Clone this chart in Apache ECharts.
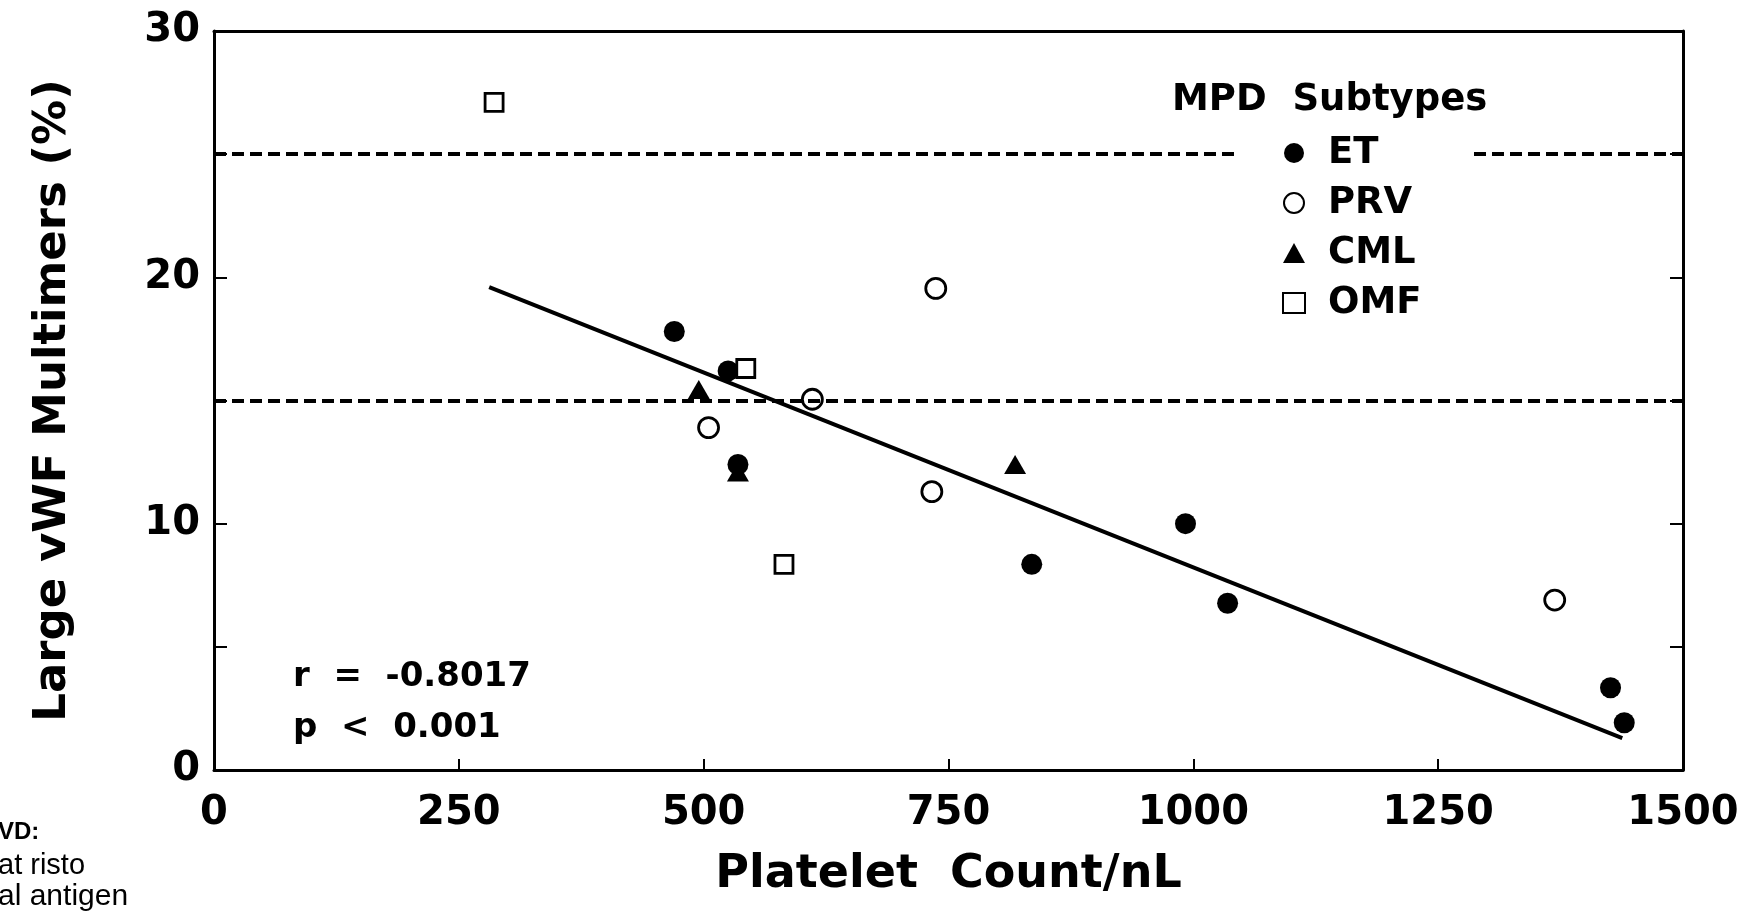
<!DOCTYPE html>
<html>
<head>
<meta charset="utf-8">
<script src="https://cdn.jsdelivr.net/npm/echarts@6/dist/echarts.min.js"></script>
<style>
html,body{margin:0;padding:0;background:#fff;}
#chart{width:1760px;height:914px;}
</style>
</head>
<body>
<div id="chart"></div>
<script>
// ---- data ----
const seriesNames = ['ET', 'PRV', 'CML', 'OMF'];
const etPoints  = [[470, 17.8], [525, 16.2], [535, 12.4], [835, 8.35], [992, 10.0], [1035, 6.77], [1426, 3.34], [1440, 1.92]];
const prvPoints = [[505, 13.9], [611, 15.05], [737, 19.55], [733, 11.3], [1369, 6.9]];
const cmlPoints = [[495, 15.45], [535, 12.1], [818, 12.4]];
const omfPoints = [[286, 27.1], [543, 16.3], [582, 8.35]];
const fitLine   = [[281, 19.6], [1438, 1.29]];
const refLevels = [25, 15];
const xTicks = { min: 0, max: 1500, step: 250 };
const yTicks = { min: 0, max: 30, step: 5, labelStep: 10 };
const xTitle = 'Platelet  Count/nL';
const yTitle = 'Large vWF Multimers (%)';
const legendTitle = 'MPD  Subtypes';
const statLines = ['r  =  -0.8017', 'p  <  0.001'];
const sideFragments = ['VD:', 'at risto', 'al antigen'];

const FONT = '"DejaVu Sans", sans-serif';
const chart = echarts.init(document.getElementById('chart'), null, { renderer: 'canvas' });

const axisLine = { show: true, onZero: false, lineStyle: { color: '#000', width: 3 } };
const tick = len => ({ show: true, inside: true, length: len, lineStyle: { color: '#000', width: 2 } });

const option = {
  backgroundColor: '#fff',
  animation: false,
  grid: { left: 214, right: 77, top: 31, bottom: 144, containLabel: false },
  legend: {
    data: seriesNames,
    orient: 'vertical',
    left: 1234,
    top: 123,
    zlevel: 1,
    z: 10,
    padding: [10, 50, 10, 48],
    itemWidth: 22,
    itemHeight: 20,
    itemGap: 10,
    backgroundColor: '#fff',
    textStyle: { fontFamily: FONT, fontWeight: 'bold', fontSize: 37, color: '#000', lineHeight: 40, padding: [0, 0, 0, 18] },
    selectedMode: false
  },
  xAxis: [
    {
      type: 'value', position: 'bottom', min: xTicks.min, max: xTicks.max, interval: xTicks.step,
      axisLine: axisLine,
      axisTick: tick(11),
      axisLabel: { color: '#000', fontFamily: FONT, fontWeight: 'bold', fontSize: 40, margin: 24, formatter: v => String(v) },
      splitLine: { show: false },
      name: xTitle, nameLocation: 'middle', nameGap: 82,
      nameTextStyle: { color: '#000', fontFamily: FONT, fontWeight: 'bold', fontSize: 46 }
    },
    {
      type: 'value', position: 'top', min: xTicks.min, max: xTicks.max, interval: xTicks.step,
      axisLine: axisLine, axisTick: { show: false }, axisLabel: { show: false }, splitLine: { show: false }
    }
  ],
  yAxis: [
    {
      type: 'value', position: 'left', min: yTicks.min, max: yTicks.max, interval: yTicks.step,
      axisLine: axisLine,
      axisTick: tick(13),
      axisLabel: {
        color: '#000', fontFamily: FONT, fontWeight: 'bold', fontSize: 40, margin: 14,
        formatter: v => (v % yTicks.labelStep === 0 ? String(v) : '')
      },
      splitLine: { show: false },
      name: yTitle, nameLocation: 'middle', nameGap: 138, nameRotate: 90,
      nameTextStyle: { color: '#000', fontFamily: FONT, fontWeight: 'bold', fontSize: 45 }
    },
    {
      type: 'value', position: 'right', min: yTicks.min, max: yTicks.max, interval: yTicks.step,
      axisLine: axisLine,
      axisTick: tick(13),
      axisLabel: { show: false }, splitLine: { show: false }
    }
  ],
  graphic: [
    { type: 'text', left: 1172, top: 82, style: { text: legendTitle, fill: '#000', font: 'bold 37px ' + FONT } },
    { type: 'text', x: 293, y: 677, style: { text: statLines[0], fill: '#000', font: 'bold 34px ' + FONT, textVerticalAlign: 'middle' } },
    { type: 'text', x: 293, y: 728, style: { text: statLines[1], fill: '#000', font: 'bold 34px ' + FONT, textVerticalAlign: 'middle' } },
    { type: 'text', x: -2, y: 832, style: { text: sideFragments[0], fill: '#000', font: 'bold 24px "Liberation Sans", Arial, sans-serif', textVerticalAlign: 'middle' } },
    { type: 'text', x: -2, y: 866, style: { text: sideFragments[1], fill: '#000', font: '29px "Liberation Sans", Arial, sans-serif', textVerticalAlign: 'middle' } },
    { type: 'text', x: -2, y: 897, style: { text: sideFragments[2], fill: '#000', font: '30px "Liberation Sans", Arial, sans-serif', textVerticalAlign: 'middle' } }
  ],
  series: [
    {
      name: 'ref', type: 'line', data: [], silent: true,
      markLine: {
        symbol: ['none', 'none'], silent: true, label: { show: false },
        lineStyle: { color: '#000', width: 4, type: [12, 6] },
        data: refLevels.map(v => ({ yAxis: v }))
      }
    },
    {
      name: 'fit', type: 'line', data: fitLine, symbol: 'none', silent: true,
      lineStyle: { color: '#000', width: 4 }
    },
    {
      name: 'ET', type: 'scatter', data: etPoints, symbol: 'circle', symbolSize: 21,
      itemStyle: { color: '#000', borderColor: '#000', borderWidth: 0, opacity: 1 }
    },
    {
      name: 'PRV', type: 'scatter', data: prvPoints, symbol: 'circle', symbolSize: 20,
      itemStyle: { color: '#fff', borderColor: '#000', borderWidth: 2.8, opacity: 1 }
    },
    {
      name: 'CML', type: 'scatter', data: cmlPoints, symbol: 'triangle', symbolSize: [22, 19],
      itemStyle: { color: '#000', borderColor: '#000', borderWidth: 0, opacity: 1 }
    },
    {
      name: 'OMF', type: 'scatter', data: omfPoints, symbol: 'rect', symbolSize: 18,
      itemStyle: { color: '#fff', borderColor: '#000', borderWidth: 2.8, opacity: 1 }
    }
  ]
};
chart.setOption(option);
</script>
</body>
</html>
